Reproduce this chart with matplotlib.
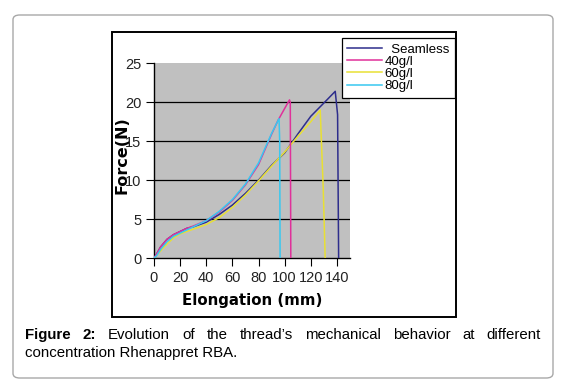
import matplotlib
matplotlib.use("Agg")
from matplotlib import pyplot as plt
from matplotlib.patches import Rectangle, FancyBboxPatch

W, H = 564, 384

# data
x_seamless = [0, 2, 5, 10, 15, 20, 25, 30, 40, 50, 60, 70, 80, 90, 100, 110, 120, 130, 138.7, 140.5, 141.3]
f_seamless = [0, 0.5, 1.4, 2.4, 3.0, 3.4, 3.8, 4.0, 4.6, 5.6, 6.8, 8.3, 10.0, 11.9, 13.5, 15.9, 18.2, 19.9, 21.4, 18.4, 0]

x_40 = [0, 2, 5, 10, 15, 20, 25, 30, 40, 50, 60, 70, 80, 90, 95, 100, 103.7, 104.3, 104.7]
f_40 = [0, 0.5, 1.4, 2.4, 3.0, 3.4, 3.8, 4.1, 4.8, 5.9, 7.4, 9.4, 12.0, 15.9, 17.7, 19.2, 20.3, 20.0, 0]

x_60 = [0, 5, 10, 15, 20, 30, 40, 50, 60, 70, 80, 90, 100, 110, 120, 127.2, 129.5, 131]
f_60 = [0, 0.9, 1.8, 2.6, 3.1, 3.7, 4.3, 5.2, 6.5, 8.1, 9.9, 11.8, 13.6, 15.6, 17.5, 19.0, 9.0, 0]

x_80 = [0, 2, 5, 10, 15, 20, 25, 30, 40, 50, 60, 70, 80, 90, 95.7, 96.2, 96.5]
f_80 = [0, 0.3, 1.1, 2.1, 2.8, 3.2, 3.6, 4.0, 4.8, 6.0, 7.5, 9.5, 12.2, 16.0, 17.9, 15.0, 0]

labels = ["Seamless", "40g/l", "60g/l", "80g/l"]
colors = ["#2E2E8C", "#E0309A", "#E8E034", "#38C8F0"]

caption1 = ["Figure", "2:", "Evolution", "of", "the", "thread\u2019s", "mechanical",
            "behavior", "at", "different"]
caption2 = "concentration Rhenappret RBA."


def fx(px):
    return px / W


def fy(py):
    return 1 - py / H


fig = plt.figure(figsize=(W / 100, H / 100), dpi=100)
fig.patch.set_facecolor("white")

# outer rounded frame
fig.patches.append(FancyBboxPatch((fx(13), fy(378)), fx(553) - fx(13), fy(15) - fy(378),
                                  boxstyle="round,pad=0,rounding_size=0.012",
                                  transform=fig.transFigure, fill=False,
                                  edgecolor="#A8A8A8", linewidth=1.0))
# inner black frame
fig.patches.append(Rectangle((fx(112), fy(317)), fx(456) - fx(112), fy(32) - fy(317),
                             transform=fig.transFigure, fill=False,
                             edgecolor="black", linewidth=1.4))

ax = fig.add_axes([fx(154), fy(258), fx(350) - fx(154), fy(63.3) - fy(258)])
ax.set_facecolor("#C0C0C0")

ax.plot(x_seamless, f_seamless, color=colors[0], lw=1.1, label=labels[0], zorder=3)
ax.plot(x_60, f_60, color=colors[2], lw=1.1, label=labels[2], zorder=3)
ax.plot(x_40, f_40, color=colors[1], lw=1.1, label=labels[1], zorder=4)
ax.plot(x_80, f_80, color=colors[3], lw=1.1, label=labels[3], zorder=5)

ax.set_xlim(0, 150)
ax.set_ylim(0, 25)
ax.set_xticks(range(0, 141, 20))
ax.set_yticks(range(0, 26, 5))
for yv in [5, 10, 15, 20]:
    ax.axhline(yv, color="black", lw=0.9, zorder=1)
for s in ["top", "right"]:
    ax.spines[s].set_visible(False)
ax.spines["left"].set_linewidth(1.0)
ax.spines["bottom"].set_linewidth(1.0)
ax.tick_params(length=6, width=0.8, labelsize=10.5, pad=3)
for t in ax.get_xticklabels() + ax.get_yticklabels():
    t.set_family("Liberation Sans")
    t.set_color("#222222")

ax.set_xlabel("Elongation (mm)", fontsize=10.8, fontweight="bold", family="DejaVu Sans", labelpad=6)
ax.set_ylabel("Force(N)", fontsize=11.5, fontweight="bold", family="DejaVu Sans")
ax.yaxis.set_label_coords(-0.125, 0.53)

handles, labs = ax.get_legend_handles_labels()
hd = {l: h for h, l in zip(handles, labs)}
leg = fig.legend([hd[l] for l in labels], labels, loc="upper left",
                 bbox_to_anchor=(fx(342), fy(38)), bbox_transform=fig.transFigure,
                 fontsize=9.5, frameon=True, fancybox=False, edgecolor="black",
                 framealpha=1, labelspacing=0.0, handlelength=2.6, handletextpad=0.2,
                 borderpad=0.4, borderaxespad=0)
leg.get_frame().set_linewidth(0.9)
for t in leg.get_texts():
    t.set_family("Liberation Sans")
leg.get_texts()[0].set_text("  Seamless")

# justified caption line
left, right = 25, 541
txts = []
for i, w in enumerate(caption1):
    t = fig.text(0, fy(335), w, fontsize=10.8, family="Liberation Sans",
                 fontweight="bold" if i < 2 else "normal", va="center", ha="left")
    txts.append(t)
fig.canvas.draw()
r = fig.canvas.get_renderer()
widths = [t.get_window_extent(r).width for t in txts]
gap = (right - left - sum(widths)) / (len(txts) - 1)
x = left
for t, w in zip(txts, widths):
    t.set_x(fx(x))
    x += w + gap
fig.text(fx(left), fy(353), caption2, fontsize=10.8, family="Liberation Sans",
         va="center", ha="left")

fig.savefig("out.png", dpi=100)
